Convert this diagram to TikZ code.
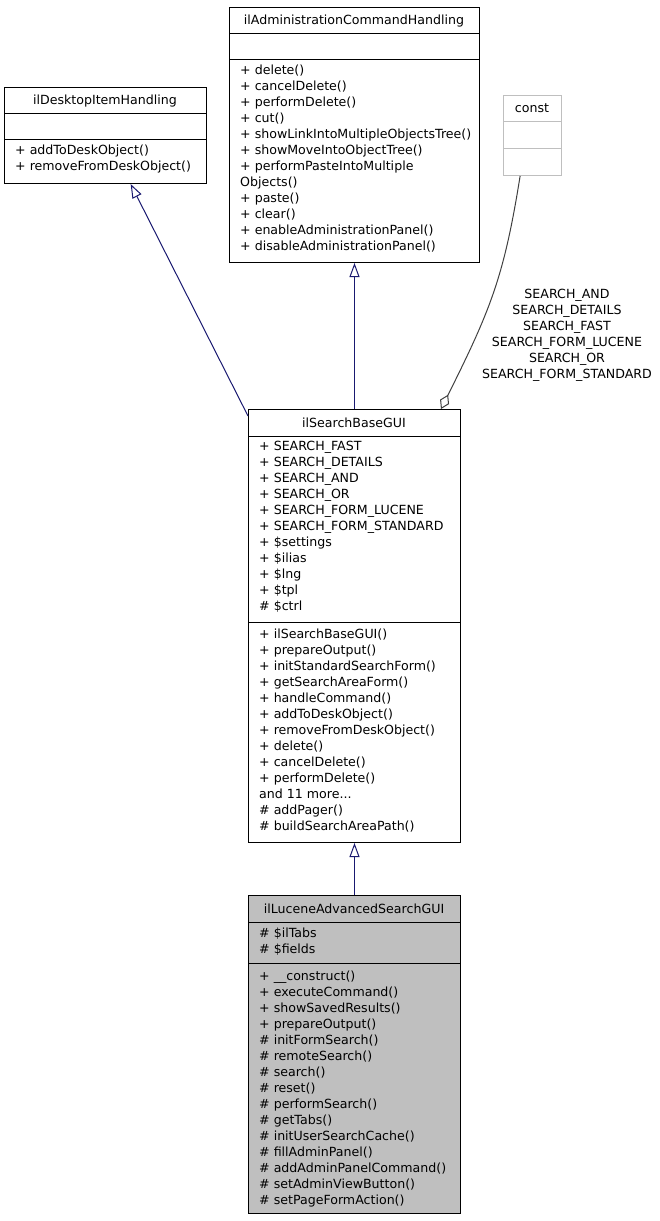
\documentclass[tikz,border=0pt]{standalone}
\usepackage{fontspec}
\setmainfont{DejaVu Sans}
\usetikzlibrary{positioning, calc, arrows.meta}
\definecolor{navy}{HTML}{191970}
\definecolor{dgray}{HTML}{404040}
\definecolor{lgray}{HTML}{BFBFBF}
\tikzset{
  cls/.style={draw, line width=1pt, inner sep=0pt, anchor=north west},
  ttl/.style={font=\fontsize{12.6}{16}\selectfont, inner sep=0pt, anchor=base},
  mem/.style={font=\fontsize{12.6}{16}\selectfont, align=left, inner sep=0pt,
    anchor=north west, execute at begin node=\strut},
  lbl/.style={font=\fontsize{12.6}{16}\selectfont, align=center, inner sep=0pt,
    anchor=north, execute at begin node=\strut},
  inh/.style={navy, line width=1pt, -{Triangle[open, length=14pt, width=10pt]}},
  agg/.style={dgray, line width=1pt, -{Diamond[open, length=16pt, width=10pt]}}}

\begin{document}
\begin{tikzpicture}[x=1pt, y=-1pt]
  \useasboundingbox (0,0) rectangle (660,1221);
  % class boxes
  \node[cls, minimum width=250, minimum height=255] (admin) at (229,7) {};
  \node[cls, minimum width=202, minimum height=96] (desk) at (4,87) {};
  \node[cls, draw=lgray, minimum width=58, minimum height=80] (const) at (503,95) {};
  \node[cls, minimum width=212, minimum height=433] (base) at (248,409) {};
  \node[cls, fill=lgray, minimum width=212, minimum height=318] (lucene) at (248,895) {};
  % compartments
  \draw[line width=1pt] (admin.west |- 0,33) -- (admin.east |- 0,33);
  \draw[line width=1pt] (admin.west |- 0,59) -- (admin.east |- 0,59);
  \draw[line width=1pt] (desk.west |- 0,113) -- (desk.east |- 0,113);
  \draw[line width=1pt] (desk.west |- 0,139) -- (desk.east |- 0,139);
  \draw[line width=1pt, lgray] (const.west |- 0,121) -- (const.east |- 0,121);
  \draw[line width=1pt, lgray] (const.west |- 0,148) -- (const.east |- 0,148);
  \draw[line width=1pt] (base.west |- 0,436) -- (base.east |- 0,436);
  \draw[line width=1pt] (base.west |- 0,622) -- (base.east |- 0,622);
  \draw[line width=1pt] (lucene.west |- 0,922) -- (lucene.east |- 0,922);
  \draw[line width=1pt] (lucene.west |- 0,963) -- (lucene.east |- 0,963);
  % titles
  \node[ttl] (admint) at (354,24.7) {ilAdministrationCommandHandling};
  \node[ttl] (deskt) at (105,104.7) {ilDesktopItemHandling};
  \node[ttl] (constt) at (532,112.7) {const};
  \node[ttl] (baset) at (354,427.2) {ilSearchBaseGUI};
  \node[ttl] (lucenet) at (354,913.2) {ilLuceneAdvancedSearchGUI};
  % members
  \node[mem] (adminm) at (240,65) {+ delete()\\+ cancelDelete()\\+ performDelete()\\+ cut()\\
    + showLinkIntoMultipleObjectsTree()\\+ showMoveIntoObjectTree()\\+ performPasteIntoMultiple\\
    Objects()\\+ paste()\\+ clear()\\+ enableAdministrationPanel()\\+ disableAdministrationPanel()};
  \node[mem] (deskm) at (15,145) {+ addToDeskObject()\\+ removeFromDeskObject()};
  \node[mem] (basea) at (259,441) {+ SEARCH\_FAST\\+ SEARCH\_DETAILS\\+ SEARCH\_AND\\+ SEARCH\_OR\\
    + SEARCH\_FORM\_LUCENE\\+ SEARCH\_FORM\_STANDARD\\+ \$settings\\+ \$ilias\\+ \$lng\\+ \$tpl\\\# \$ctrl};
  \node[mem] (basem) at (259,629) {+ ilSearchBaseGUI()\\+ prepareOutput()\\+ initStandardSearchForm()\\
    + getSearchAreaForm()\\+ handleCommand()\\+ addToDeskObject()\\+ removeFromDeskObject()\\
    + delete()\\+ cancelDelete()\\+ performDelete()\\and 11 more...\\\# addPager()\\\# buildSearchAreaPath()};
  \node[mem] (lucenea) at (259,928) {\# \$ilTabs\\\# \$fields};
  \node[mem] (lucenem) at (259,971) {+ \_\_construct()\\+ executeCommand()\\+ showSavedResults()\\
    + prepareOutput()\\\# initFormSearch()\\\# remoteSearch()\\\# search()\\\# reset()\\
    \# performSearch()\\\# getTabs()\\\# initUserSearchCache()\\\# fillAdminPanel()\\
    \# addAdminPanelCommand()\\\# setAdminViewButton()\\\# setPageFormAction()};
  % relations
  \draw[inh] ([yshift=-7pt]base.north west) -- ($(desk.south west)!0.624!(desk.south east)$);
  \draw[inh] (base.north) -- (admin.south);
  \draw[inh] (lucene.north) -- (base.south);
  \draw[agg] ($(const.south west)!0.29!(const.south east)$) .. controls +(-16,100) and +(50,-100) ..
    ($(base.north west)!0.906!(base.north east)$);
  \node[lbl] (constl) at (567,289) {SEARCH\_AND\\SEARCH\_DETAILS\\SEARCH\_FAST\\
    SEARCH\_FORM\_LUCENE\\SEARCH\_OR\\SEARCH\_FORM\_STANDARD};
\end{tikzpicture}
\end{document}
